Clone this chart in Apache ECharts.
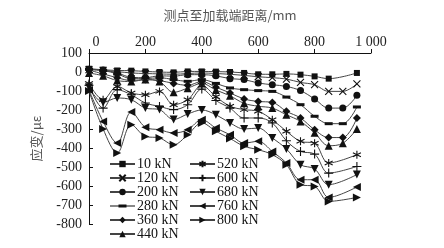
<!DOCTYPE html>
<html>
<head>
<meta charset="utf-8">
<script src="https://cdn.jsdelivr.net/npm/echarts@6/dist/echarts.min.js"></script>
<style>
  html, body { margin: 0; padding: 0; background: #fff; }
  #chart { width: 444px; height: 248px; }
</style>
</head>
<body>
<div id="chart"></div>
<script>
// distance from loading end (mm)
const distances = [0, 50, 100, 150, 200, 250, 300, 350, 400, 450, 500, 550, 600, 650, 700, 750, 800, 850, 900, 950];

// strain (με) per load level, null = no gauge reading
const s10  = [17, 12, 8, 7, 3, 0, -2, 3, 3, 2, 0, -5, -12, -12, -10, -14, -23, -35, null, -5];
const s120 = [12, 8, 2, -5, -8, -10, -12, -8, -5, -8, -12, -18, -25, -30, -37, -55, -67, -102, -102, -63];
const s200 = [15, 10, -5, -28, -30, -20, -22, -14, -14, -20, -35, -40, -58, -67, -76, -98, -142, -190, -190, -123];
const s280 = [15, 8, -10, -35, -35, -30, -40, -49, -40, -60, -84, -93, -98, -102, -132, -172, -233, -272, -272, -184];
const s360 = [10, -10, -30, -45, -40, -45, -60, -70, -50, -80, -110, -142, -155, -160, -207, -242, -304, -345, -345, -242];
const s440 = [-5, -20, -45, -50, -40, -50, -107, -85, -60, -95, -125, -165, -180, -190, -225, -260, -320, -388, -375, -300];
const s520 = [-60, -146, -76, -110, -120, -102, -172, -146, -70, -130, -180, -198, -207, -251, -312, -365, -375, -479, null, -435];
const s600 = [-70, -190, -93, -120, -163, -181, -198, -172, -90, -150, -190, -242, -242, -268, -362, -418, -432, -532, null, -497];
const s680 = [-80, -160, -137, -146, -190, -198, -250, -221, -200, -225, -268, -300, -295, -347, -405, -488, -510, -593, null, -540];
const s760 = [-95, -260, -374, -210, -291, -304, -321, -304, -251, -295, -330, -374, -365, -418, -479, -567, -567, -660, null, -605];
const s800 = [-100, -300, -426, -277, -339, -347, -383, -330, -268, -312, -350, -391, -409, -435, -488, -593, -602, -681, null, -660];

const loadNames = ['10 kN', '120 kN', '200 kN', '280 kN', '360 kN', '440 kN',
                   '520 kN', '600 kN', '680 kN', '760 kN', '800 kN'];
const loadData = [s10, s120, s200, s280, s360, s440, s520, s600, s680, s760, s800];

const xTicks = ['0', '200', '400', '600', '800', '1 000'];

const serif = '"Liberation Serif", "DejaVu Serif", serif';
const cjk = '"Noto Sans CJK SC", sans-serif';

const crossPath = 'path://M0,0L10,10M10,0L0,10';
const plusPath = 'path://M5,0L5,10M0,5L10,5';
const starPath = 'path://M5,0L5,10M0.7,2.5L9.3,7.5M9.3,2.5L0.7,7.5';
// legend icon for the dash marker: thin line with a thicker bar in the middle
const dashIcon = 'path://M0,3.5L25,3.5L25,4.5L0,4.5Z M8.5,2.5L16.5,2.5L16.5,5.5L8.5,5.5Z';

// marker per load level
const markers = [
  { symbol: 'rect', size: 6 },
  { symbol: crossPath, size: 7, stroke: true },
  { symbol: 'circle', size: 7 },
  { symbol: 'rect', size: [8, 3] },
  { symbol: 'diamond', size: 8 },
  { symbol: 'triangle', size: 8 },
  { symbol: starPath, size: 8, stroke: true },
  { symbol: plusPath, size: 9, stroke: true },
  { symbol: 'triangle', size: 8, rotate: 180 },
  { symbol: 'triangle', size: 8, rotate: 90 },
  { symbol: 'triangle', size: 8, rotate: -90 }
];

const series = loadNames.map((name, i) => {
  const pts = [];
  loadData[i].forEach((v, j) => { if (v !== null) pts.push([distances[j], v]); });
  const m = markers[i];
  return {
    name: name,
    type: 'line',
    smooth: 0.35,
    data: pts,
    symbol: m.symbol,
    symbolSize: m.size,
    symbolRotate: m.rotate || 0,
    showAllSymbol: true,
    lineStyle: { color: '#444', width: 1 },
    itemStyle: m.stroke
      ? { color: 'none', borderColor: '#111', borderWidth: 1.1 }
      : { color: '#111', borderWidth: 0 },
    emphasis: { disabled: true },
    z: 2 + i
  };
});

const legendItems = loadNames.map(n => n === '280 kN'
  ? { name: n, icon: dashIcon, itemStyle: { color: '#111' } }
  : { name: n });

const legendBase = {
  orient: 'vertical',
  itemWidth: 25,
  itemHeight: 8,
  itemGap: 0,
  padding: 0,
  textStyle: { fontFamily: serif, fontSize: 14, color: '#111', lineHeight: 14, padding: [0, 0, 0, -3] },
  selectedMode: false
};

const chart = echarts.init(document.getElementById('chart'), null, { renderer: 'canvas' });
chart.setOption({
  animation: false,
  backgroundColor: '#fff',
  grid: { left: 89, right: 73, top: 53, bottom: 24 },
  legend: [
    Object.assign({}, legendBase, { left: 109, top: 157, data: legendItems.slice(0, 6) }),
    Object.assign({}, legendBase, { left: 189, top: 157, data: legendItems.slice(6) })
  ],
  xAxis: {
    type: 'value',
    position: 'top',
    min: 0,
    max: 1000,
    interval: 200,
    name: '测点至加载端距离/mm',
    nameLocation: 'middle',
    nameGap: 31,
    nameTextStyle: { fontFamily: cjk, fontSize: 13, color: '#555' },
    axisLine: { onZero: false, lineStyle: { color: '#111', width: 1 } },
    axisTick: { inside: false, length: 4, lineStyle: { color: '#111' } },
    splitLine: { show: false },
    axisLabel: {
      fontFamily: serif,
      fontSize: 14,
      color: '#222',
      margin: 4,
      formatter: v => {
        const s = xTicks[Math.round(v / 200)];
        return v === 0 ? '{z|' + s + '}' : s;
      },
      rich: { z: { fontFamily: serif, fontSize: 14, color: '#222', padding: [0, 0, 0, 14] } }
    }
  },
  yAxis: {
    type: 'value',
    min: -800,
    max: 100,
    interval: 100,
    name: '应变/με',
    nameLocation: 'middle',
    nameGap: 46,
    nameRotate: 90,
    nameTextStyle: { fontFamily: cjk, fontSize: 13, color: '#555' },
    axisLine: { show: true, onZero: false, lineStyle: { color: '#111', width: 1 } },
    axisTick: { show: true, inside: true, length: 4, lineStyle: { color: '#111' } },
    splitLine: { show: false },
    axisLabel: { fontFamily: serif, fontSize: 14, color: '#222', margin: 7 }
  },
  series: series
});
</script>
</body>
</html>
